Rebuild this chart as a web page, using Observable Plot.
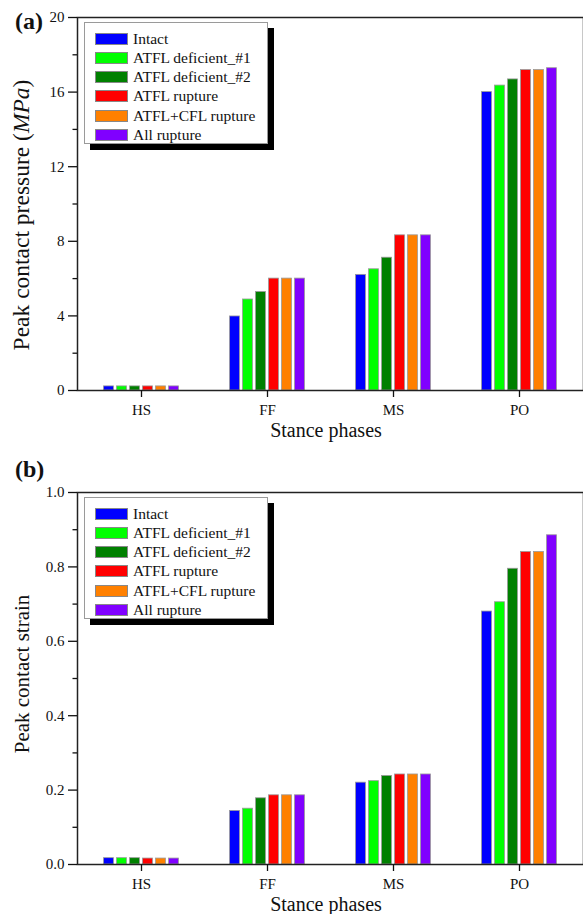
<!DOCTYPE html>
<html>
<head>
<meta charset="utf-8">
<script src="https://cdn.jsdelivr.net/npm/d3@7"></script>
<script src="https://cdn.jsdelivr.net/npm/@observablehq/plot@0.6"></script>
<style>
  html, body { margin: 0; padding: 0; background: #fff; overflow: hidden; }
  #wrap { position: relative; width: 583px; height: 914px; font-family: 'Liberation Serif', 'Times New Roman', serif; }
  #wrap svg { display: block; }
  .legend { position: absolute; background: #fff; border: 1px solid #9a9a9a; box-shadow: 6px 6px 0 #000; box-sizing: border-box; }
  .legend .row { position: absolute; left: 10px; height: 19px; display: flex; align-items: center; white-space: nowrap; font-size: 15.5px; color: #111; }
  .legend .sw { width: 33px; height: 12px; border: 1px solid #888; box-sizing: border-box; margin-right: 5px; }
</style>
</head>
<body>
<div id="wrap"></div>
<script>
// ---------- data ----------
const phases = ["HS", "FF", "MS", "PO"];
const seriesNames = ["Intact", "ATFL deficient_#1", "ATFL deficient_#2", "ATFL rupture", "ATFL+CFL rupture", "All rupture"];
const seriesColors = ["#0000ff", "#00ff00", "#008000", "#ff0000", "#ff8000", "#8000ff"];

// Peak contact pressure (MPa), one array per series, values for HS, FF, MS, PO
const pressureIntact   = [0.22, 3.97, 6.20, 16.00];
const pressureDef1     = [0.22, 4.88, 6.50, 16.35];
const pressureDef2     = [0.22, 5.28, 7.12, 16.68];
const pressureRupture  = [0.22, 6.00, 8.32, 17.18];
const pressureCFL      = [0.22, 6.00, 8.32, 17.18];
const pressureAll      = [0.22, 6.00, 8.32, 17.28];

// Peak contact strain, one array per series, values for HS, FF, MS, PO
const strainIntact   = [0.017, 0.144, 0.220, 0.680];
const strainDef1     = [0.017, 0.150, 0.224, 0.705];
const strainDef2     = [0.017, 0.178, 0.238, 0.795];
const strainRupture  = [0.016, 0.186, 0.242, 0.840];
const strainCFL      = [0.016, 0.186, 0.242, 0.840];
const strainAll      = [0.016, 0.186, 0.242, 0.885];

const pressureMajorTicks = [0, 4, 8, 12, 16, 20];
const pressureMinorTicks = [2, 6, 10, 14, 18];
const strainMajorTicks = [0, 0.2, 0.4, 0.6, 0.8, 1.0];
const strainMinorTicks = [0.1, 0.3, 0.5, 0.7, 0.9];

const pressureValues = [pressureIntact, pressureDef1, pressureDef2, pressureRupture, pressureCFL, pressureAll];
const strainValues = [strainIntact, strainDef1, strainDef2, strainRupture, strainCFL, strainAll];

// ---------- drawing ----------
const FONT = "'Liberation Serif', 'Times New Roman', serif";
const W = 583, ML = 77, MR = 0, MB = 50;
const wrap = document.getElementById("wrap");

function panel(opts) {
  const { values, yDomain, major, minor, fmt, height, marginTop, yLabel, yLabelCenter, yLabelSize, tag, tagTop } = opts;
  const rows = seriesNames.flatMap((s, i) => phases.map((p, j) => ({ series: s, idx: i, phase: p, value: values[i][j] })));
  const bw = (W - ML - MR) / phases.length;
  const barW = 10.4, step = 13;
  const inset = (bw - barW) / 2;
  const n = seriesNames.length;

  const marks = [
    ...seriesNames.map((s, i) => Plot.barY(rows.filter(r => r.idx === i), {
      x: "phase", y: "value", fill: seriesColors[i],
      stroke: "#9a9a9a", strokeWidth: 0.8,
      insetLeft: inset, insetRight: inset, dx: (i - (n - 1) / 2) * step
    })),
    Plot.frame({ stroke: "#222", strokeWidth: 1.5 }),
    Plot.axisY({ ticks: major, tickSize: 9, tickPadding: 4, tickFormat: fmt, fontSize: 15, strokeWidth: 1.3, label: null }),
    Plot.axisY({ ticks: minor, tickSize: 4.5, tickFormat: () => "", strokeWidth: 1.3, label: null }),
    Plot.axisX({ tickSize: 7, tickPadding: 7, fontSize: 15, strokeWidth: 1.3, label: null })
  ];

  const chart = Plot.plot({
    width: W, height,
    marginLeft: ML, marginRight: MR, marginTop, marginBottom: MB,
    x: { domain: phases, padding: 0 },
    y: { domain: yDomain },
    style: { fontFamily: FONT, fontSize: "15px", color: "#111", background: "transparent", overflow: "visible" },
    marks
  });

  const svg = d3.select(chart);
  // y-axis title
  const yt = svg.append("text")
    .attr("transform", `translate(29,${yLabelCenter}) rotate(-90)`)
    .attr("text-anchor", "middle")
    .attr("font-family", FONT).attr("font-size", yLabelSize).attr("fill", "#111");
  yLabel.forEach(([t, italic]) => {
    const ts = yt.append("tspan").text(t);
    if (italic) ts.attr("font-style", "italic");
  });
  // x-axis title
  svg.append("text")
    .attr("x", 326).attr("y", height - MB + 47)
    .attr("text-anchor", "middle")
    .attr("font-family", FONT).attr("font-size", 20).attr("fill", "#111")
    .text("Stance phases");
  // panel tag
  svg.append("text")
    .attr("x", 15).attr("y", tagTop)
    .attr("text-anchor", "start")
    .attr("font-family", FONT).attr("font-size", 24).attr("font-weight", "bold").attr("fill", "#111")
    .text(tag);

  return chart;
}

function legend(top) {
  const box = document.createElement("div");
  box.className = "legend";
  box.style.left = "84px";
  box.style.top = top + "px";
  box.style.width = "184px";
  box.style.height = "122px";
  seriesNames.forEach((name, i) => {
    const row = document.createElement("div");
    row.className = "row";
    row.style.top = (6 + i * 19.3) + "px";
    const sw = document.createElement("div");
    sw.className = "sw";
    sw.style.background = seriesColors[i];
    const label = document.createElement("span");
    label.textContent = name;
    row.appendChild(sw);
    row.appendChild(label);
    box.appendChild(row);
  });
  wrap.appendChild(box);
}

const chartA = panel({
  values: pressureValues, yDomain: [0, 20], major: pressureMajorTicks, minor: pressureMinorTicks,
  fmt: d3.format("d"), height: 440, marginTop: 17,
  yLabel: [["Peak contact pressure ("], ["MPa", true], [")"]], yLabelCenter: 215, yLabelSize: 23.5, tag: "(a)", tagTop: 29
});
const chartB = panel({
  values: strainValues, yDomain: [0, 1], major: strainMajorTicks, minor: strainMinorTicks,
  fmt: d3.format(".1f"), height: 474, marginTop: 52,
  yLabel: [["Peak contact strain"]], yLabelCenter: 234, yLabelSize: 21, tag: "(b)", tagTop: 37
});
wrap.appendChild(chartA);
wrap.appendChild(chartB);
legend(22);
legend(497);
</script>
</body>
</html>
